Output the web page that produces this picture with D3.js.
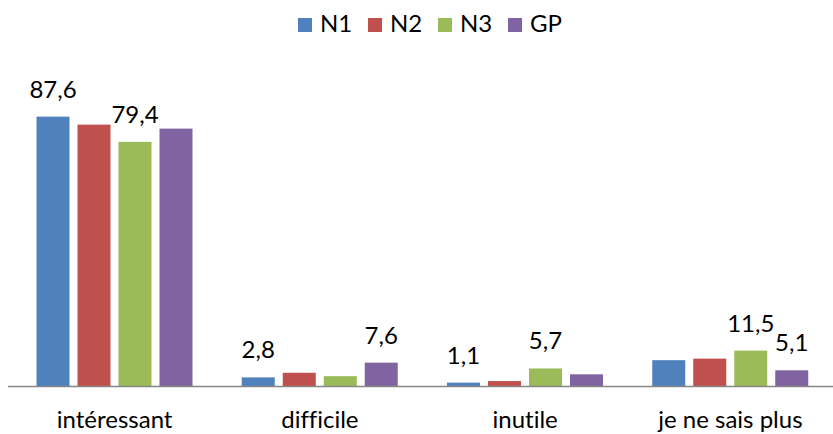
<!DOCTYPE html>
<html>
<head>
<meta charset="utf-8">
<script src="https://cdn.jsdelivr.net/npm/d3@7"></script>
<style>
  body { margin: 0; background: #fff; }
  svg text { font-family: Lato, "Open Sans", sans-serif; fill: #000; font-variant-ligatures: none; }
</style>
</head>
<body>
<div class="chart"></div>
<script>
var categories = ["intéressant", "difficile", "inutile", "je ne sais plus"];
var series = ["N1", "N2", "N3", "GP"];
var colors = ["#4f81bd", "#c0504d", "#9bbb59", "#8064a2"];

// values per series, in category order
var N1 = [87.6, 2.8, 1.1, 8.4];
var N2 = [85.0, 4.3, 1.6, 8.9];
var N3 = [79.4, 3.2, 5.7, 11.5];
var GP = [83.7, 7.6, 3.8, 5.1];

// only some bars carry a label in the original
var shown = {
  "N1": [true, true, true, false],
  "N2": [false, false, false, false],
  "N3": [true, false, true, true],
  "GP": [false, true, false, true]
};

var values = { N1: N1, N2: N2, N3: N3, GP: GP };

var w = 833,
h = 434,
base = 386;

var svg = d3.select(".chart")
  .append("svg")
  .attr("width", w)
  .attr("height", h);

var x0 = d3.scaleBand()
  .domain(categories)
  .range([12, 833]);

var x1 = d3.scaleBand()
  .domain(series)
  .range([24.5, 180.5])
  .paddingInner(0.195)
  .paddingOuter(0);

var y = d3.scaleLinear()
  .domain([0, 100])
  .range([base, base - 307.5]);

var fmt = d => d.toFixed(1).replace(".", ",");

var groups = svg.selectAll("g.grp")
  .data(categories)
  .enter()
  .append("g")
  .attr("class", "grp")
  .attr("transform", d => "translate(" + x0(d) + ",0)");

series.forEach((s, si) => {
  groups.append("rect")
    .attr("x", x1(s))
    .attr("y", (d, i) => y(values[s][i]))
    .attr("width", x1.bandwidth())
    .attr("height", (d, i) => base - y(values[s][i]))
    .attr("fill", colors[si]);

  groups.filter((d, i) => shown[s][i])
    .append("text")
    .attr("x", x1(s) + x1.bandwidth() / 2)
    .attr("y", d => y(values[s][categories.indexOf(d)]) - 19)
    .attr("text-anchor", "middle")
    .style("font-size", "24px")
    .text(d => fmt(values[s][categories.indexOf(d)]));
});

// axis
var xAxis = d3.axisBottom(x0).tickSize(0).tickPadding(0);
var ax = svg.append("g")
  .attr("transform", "translate(0," + base + ")")
  .call(xAxis);
ax.select(".domain").attr("stroke", "#868686").attr("stroke-width", 1.5)
  .attr("d", "M8,0.5H833");
ax.selectAll("text")
  .attr("dy", 0)
  .attr("y", 42)
  .style("font-size", "24px")
  .style("font-family", "Lato, 'Open Sans', sans-serif")
  .attr("fill", "#000");

// legend
var legend = svg.append("g")
  .selectAll("g")
  .data(series)
  .enter()
  .append("g")
  .attr("transform", (d, i) => "translate(" + (298 + i * 70) + ",0)");

legend.append("rect")
  .attr("x", 0)
  .attr("y", 18)
  .attr("width", 14)
  .attr("height", 14)
  .attr("fill", (d, i) => colors[i]);

legend.append("text")
  .attr("x", 22)
  .attr("y", 32)
  .style("font-size", "24px")
  .text(d => d);
</script>
</body>
</html>
